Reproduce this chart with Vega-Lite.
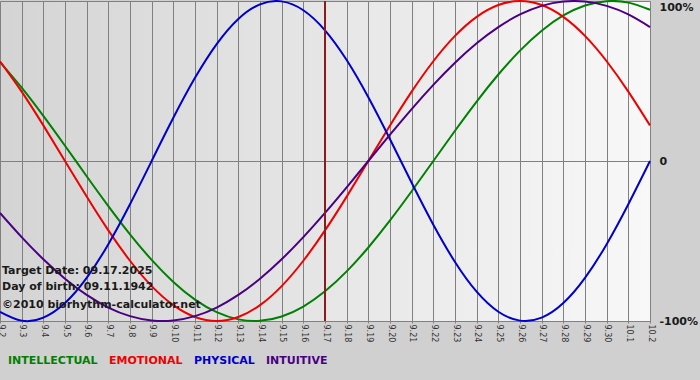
{
  "$schema": "https://vega.github.io/schema/vega-lite/v6.json",
  "width": 650,
  "height": 320,
  "autosize": {"type": "none"},
  "padding": {"left": 0, "top": 1, "right": 50, "bottom": 59},
  "background": "#d0d0d0",
  "view": {
    "stroke": null,
    "fill": {
      "gradient": "linear", "x1": 0, "y1": 0, "x2": 1, "y2": 0,
      "stops": [{"offset": 0, "color": "#d4d4d4"}, {"offset": 1, "color": "#f8f8f8"}]
    }
  },
  "config": {"font": "DejaVu Sans"},
  "layer": [
    {
      "data": {
        "values": [
          {"date": "2025-09-02", "INTELLECTUAL": 0.6182, "EMOTIONAL": 0.6235, "PHYSICAL": -0.9423, "INTUITIVE": -0.3247},
          {"date": "2025-09-03", "INTELLECTUAL": 0.4582, "EMOTIONAL": 0.4339, "PHYSICAL": -0.9977, "INTUITIVE": -0.4759},
          {"date": "2025-09-04", "INTELLECTUAL": 0.2817, "EMOTIONAL": 0.2225, "PHYSICAL": -0.9791, "INTUITIVE": -0.6142},
          {"date": "2025-09-05", "INTELLECTUAL": 0.0951, "EMOTIONAL": 0.0, "PHYSICAL": -0.8879, "INTUITIVE": -0.7357},
          {"date": "2025-09-06", "INTELLECTUAL": -0.0951, "EMOTIONAL": -0.2225, "PHYSICAL": -0.7308, "INTUITIVE": -0.8372},
          {"date": "2025-09-07", "INTELLECTUAL": -0.2817, "EMOTIONAL": -0.4339, "PHYSICAL": -0.5196, "INTUITIVE": -0.9158},
          {"date": "2025-09-08", "INTELLECTUAL": -0.4582, "EMOTIONAL": -0.6235, "PHYSICAL": -0.2698, "INTUITIVE": -0.9694},
          {"date": "2025-09-09", "INTELLECTUAL": -0.6182, "EMOTIONAL": -0.7818, "PHYSICAL": 0.0, "INTUITIVE": -0.9966},
          {"date": "2025-09-10", "INTELLECTUAL": -0.7557, "EMOTIONAL": -0.9010, "PHYSICAL": 0.2698, "INTUITIVE": -0.9966},
          {"date": "2025-09-11", "INTELLECTUAL": -0.8660, "EMOTIONAL": -0.9749, "PHYSICAL": 0.5196, "INTUITIVE": -0.9694},
          {"date": "2025-09-12", "INTELLECTUAL": -0.9450, "EMOTIONAL": -1.0, "PHYSICAL": 0.7308, "INTUITIVE": -0.9158},
          {"date": "2025-09-13", "INTELLECTUAL": -0.9898, "EMOTIONAL": -0.9749, "PHYSICAL": 0.8879, "INTUITIVE": -0.8372},
          {"date": "2025-09-14", "INTELLECTUAL": -0.9989, "EMOTIONAL": -0.9010, "PHYSICAL": 0.9791, "INTUITIVE": -0.7357},
          {"date": "2025-09-15", "INTELLECTUAL": -0.9718, "EMOTIONAL": -0.7818, "PHYSICAL": 0.9977, "INTUITIVE": -0.6142},
          {"date": "2025-09-16", "INTELLECTUAL": -0.9096, "EMOTIONAL": -0.6235, "PHYSICAL": 0.9423, "INTUITIVE": -0.4759},
          {"date": "2025-09-17", "INTELLECTUAL": -0.8146, "EMOTIONAL": -0.4339, "PHYSICAL": 0.8170, "INTUITIVE": -0.3247},
          {"date": "2025-09-18", "INTELLECTUAL": -0.6901, "EMOTIONAL": -0.2225, "PHYSICAL": 0.6311, "INTUITIVE": -0.1646},
          {"date": "2025-09-19", "INTELLECTUAL": -0.5406, "EMOTIONAL": 0.0, "PHYSICAL": 0.3984, "INTUITIVE": 0.0},
          {"date": "2025-09-20", "INTELLECTUAL": -0.3717, "EMOTIONAL": 0.2225, "PHYSICAL": 0.1362, "INTUITIVE": 0.1646},
          {"date": "2025-09-21", "INTELLECTUAL": -0.1893, "EMOTIONAL": 0.4339, "PHYSICAL": -0.1362, "INTUITIVE": 0.3247},
          {"date": "2025-09-22", "INTELLECTUAL": 0.0, "EMOTIONAL": 0.6235, "PHYSICAL": -0.3984, "INTUITIVE": 0.4759},
          {"date": "2025-09-23", "INTELLECTUAL": 0.1893, "EMOTIONAL": 0.7818, "PHYSICAL": -0.6311, "INTUITIVE": 0.6142},
          {"date": "2025-09-24", "INTELLECTUAL": 0.3717, "EMOTIONAL": 0.9010, "PHYSICAL": -0.8170, "INTUITIVE": 0.7357},
          {"date": "2025-09-25", "INTELLECTUAL": 0.5406, "EMOTIONAL": 0.9749, "PHYSICAL": -0.9423, "INTUITIVE": 0.8372},
          {"date": "2025-09-26", "INTELLECTUAL": 0.6901, "EMOTIONAL": 1.0, "PHYSICAL": -0.9977, "INTUITIVE": 0.9158},
          {"date": "2025-09-27", "INTELLECTUAL": 0.8146, "EMOTIONAL": 0.9749, "PHYSICAL": -0.9791, "INTUITIVE": 0.9694},
          {"date": "2025-09-28", "INTELLECTUAL": 0.9096, "EMOTIONAL": 0.9010, "PHYSICAL": -0.8879, "INTUITIVE": 0.9966},
          {"date": "2025-09-29", "INTELLECTUAL": 0.9718, "EMOTIONAL": 0.7818, "PHYSICAL": -0.7308, "INTUITIVE": 0.9966},
          {"date": "2025-09-30", "INTELLECTUAL": 0.9989, "EMOTIONAL": 0.6235, "PHYSICAL": -0.5196, "INTUITIVE": 0.9694},
          {"date": "2025-10-01", "INTELLECTUAL": 0.9898, "EMOTIONAL": 0.4339, "PHYSICAL": -0.2698, "INTUITIVE": 0.9158},
          {"date": "2025-10-02", "INTELLECTUAL": 0.9450, "EMOTIONAL": 0.2225, "PHYSICAL": 0.0, "INTUITIVE": 0.8372}
        ]
      },
      "transform": [{"fold": ["INTELLECTUAL", "EMOTIONAL", "PHYSICAL", "INTUITIVE"], "as": ["series", "value"]}],
      "mark": {"type": "line", "interpolate": "natural", "strokeWidth": 2},
      "encoding": {
        "x": {
          "field": "date", "type": "temporal",
          "scale": {"type": "utc", "domain": [{"year": 2025, "month": 9, "date": 2, "utc": true}, {"year": 2025, "month": 10, "date": 2, "utc": true}], "nice": false},
          "axis": {
            "title": null, "format": "%-m.%-d", "labelAngle": 90,
            "tickCount": {"interval": "day", "step": 1},
            "grid": true, "gridColor": "#808080", "gridOpacity": 1, "gridWidth": 1,
            "domainColor": "#808080", "tickColor": "#808080", "tickSize": 2,
            "labelPadding": 1, "labelFontSize": 8, "labelColor": "#333333",
            "labelFont": "DejaVu Sans", "labelOverlap": false, "labelFlush": false, "labelBound": false
          }
        },
        "y": {
          "field": "value", "type": "quantitative",
          "scale": {"domain": [-1, 1], "nice": false, "zero": false},
          "axis": {
            "title": null, "orient": "right", "values": [-1, 0, 1],
            "labelExpr": "datum.value == 1 ? '100%' : (datum.value == 0 ? '0' : '-100%')",
            "grid": true, "gridColor": "#808080", "gridOpacity": 1,
            "domain": false, "ticks": false, "labelPadding": 9,
            "labelFont": "DejaVu Sans", "labelFontSize": 11, "labelFontWeight": "bold",
            "labelColor": "#1a1a1a",
            "labelBaseline": {"condition": {"test": "datum.value == 1", "value": "top"}, "value": "middle"},
            "labelFlush": false, "labelBound": false
          }
        },
        "color": {
          "field": "series", "type": "nominal",
          "scale": {"domain": ["INTELLECTUAL", "EMOTIONAL", "PHYSICAL", "INTUITIVE"], "range": ["#008000", "#ee0000", "#0000cc", "#4b0082"]},
          "legend": {
            "orient": "none", "legendX": -3, "legendY": 354, "direction": "horizontal",
            "title": null, "symbolSize": 0, "symbolOpacity": 0, "symbolStrokeWidth": 0,
            "labelOffset": 0, "columnPadding": -5, "labelLimit": 0,
            "labelFont": "DejaVu Sans", "labelFontSize": 11, "labelFontWeight": "bold",
            "encode": {"labels": {"update": {"fill": {"scale": "color", "field": "value"}}}}
          }
        }
      }
    },
    {
      "data": {"values": [{}]},
      "mark": {"type": "rule", "color": "#8b1c1c", "strokeWidth": 2},
      "encoding": {
        "x": {"datum": {"year": 2025, "month": 9, "date": 17, "utc": true}, "type": "temporal"}
      }
    },
    {
      "data": {"values": [{}]},
      "mark": {"type": "text", "align": "left", "baseline": "middle", "dx": 2, "font": "DejaVu Sans", "fontSize": 11, "fontWeight": "bold", "color": "#1a1a1a"},
      "encoding": {
        "x": {"datum": {"year": 2025, "month": 9, "date": 2, "utc": true}, "type": "temporal"},
        "y": {"datum": -0.6875, "type": "quantitative"},
        "text": {"value": "Target Date: 09.17.2025"}
      }
    },
    {
      "data": {"values": [{}]},
      "mark": {"type": "text", "align": "left", "baseline": "middle", "dx": 2, "font": "DejaVu Sans", "fontSize": 11, "fontWeight": "bold", "color": "#1a1a1a"},
      "encoding": {
        "x": {"datum": {"year": 2025, "month": 9, "date": 2, "utc": true}, "type": "temporal"},
        "y": {"datum": -0.7875, "type": "quantitative"},
        "text": {"value": "Day of birth: 09.11.1942"}
      }
    },
    {
      "data": {"values": [{}]},
      "mark": {"type": "text", "align": "left", "baseline": "middle", "dx": 2, "font": "DejaVu Sans", "fontSize": 11, "fontWeight": "bold", "color": "#1a1a1a"},
      "encoding": {
        "x": {"datum": {"year": 2025, "month": 9, "date": 2, "utc": true}, "type": "temporal"},
        "y": {"datum": -0.9, "type": "quantitative"},
        "text": {"value": "©2010 biorhythm-calculator.net"}
      }
    }
  ]
}
